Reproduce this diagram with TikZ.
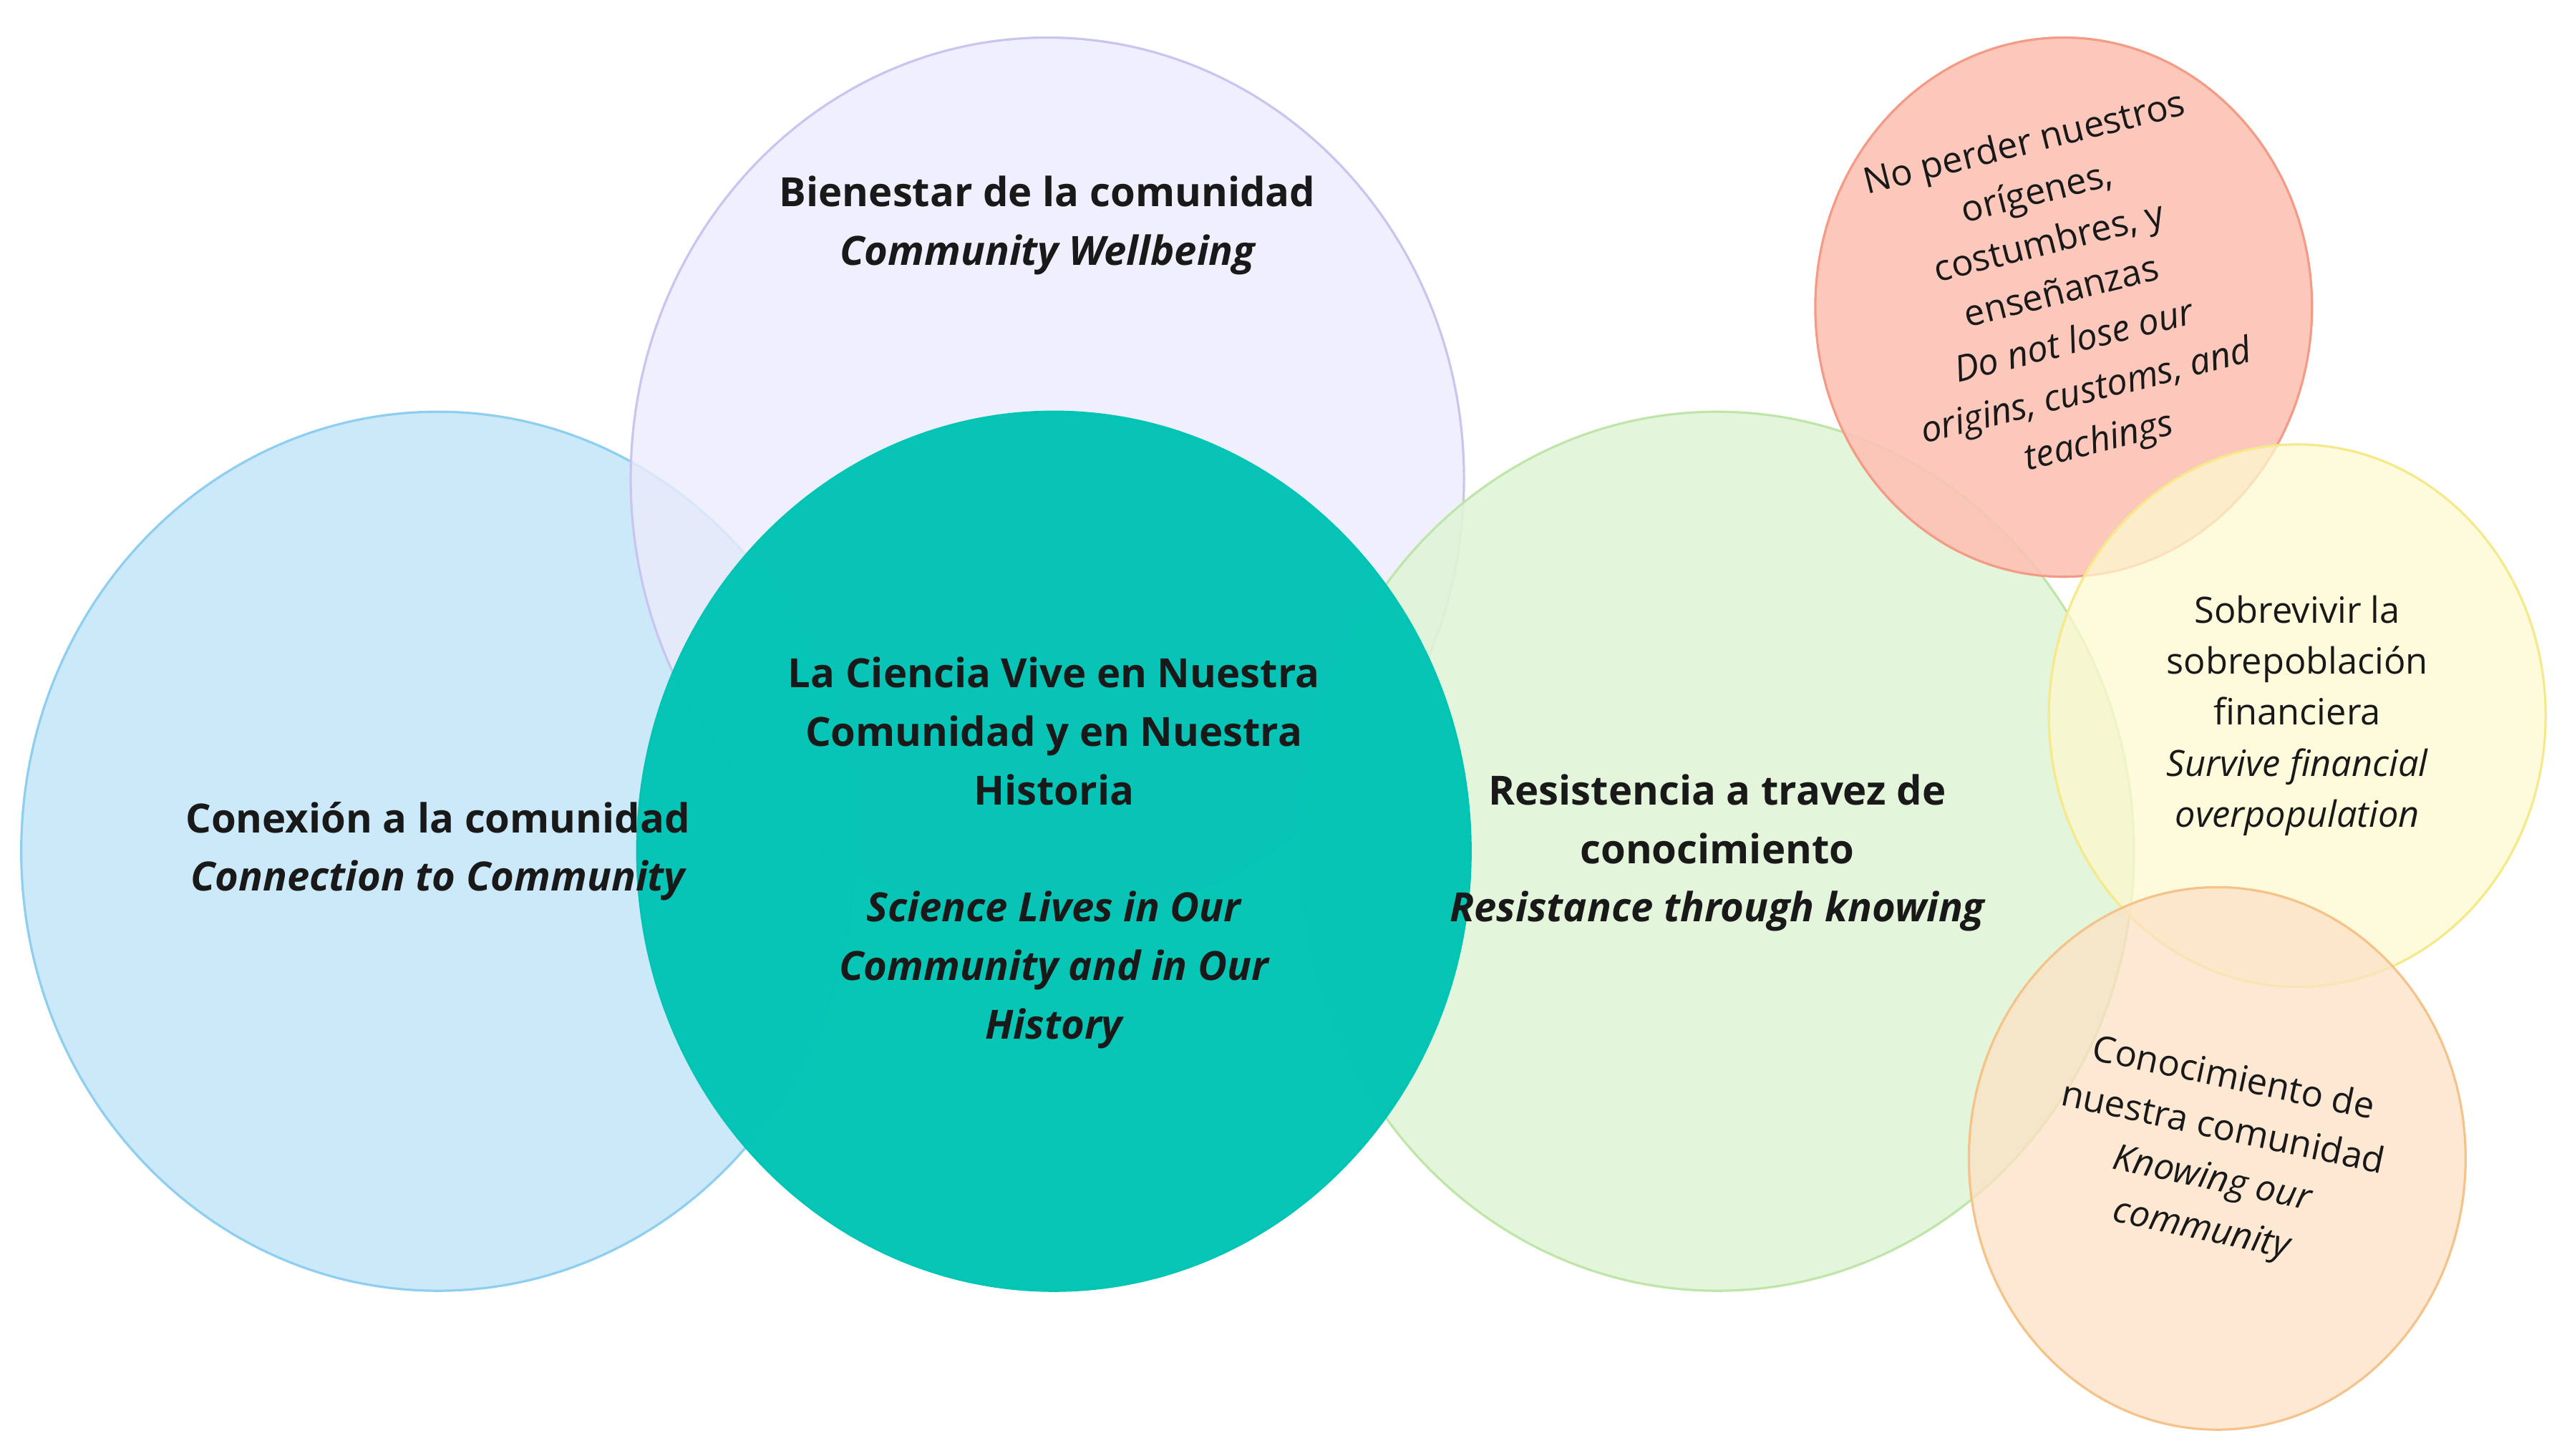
\documentclass[tikz,border=0pt]{standalone}
\usepackage{fontspec}
\setmainfont{Open Sans}
\begin{document}
\begin{tikzpicture}[x=0.01cm,y=-0.01cm,
  big/.style={font=\fontsize{7pt}{10.2pt}\selectfont\bfseries,align=center,text=black!90},
  small/.style={font=\fontsize{6.3pt}{8.9pt}\selectfont,align=center,text=black!90}]
\useasboundingbox (0,0) rectangle (1568,891);
\definecolor{cblue}{HTML}{CCE9FA}\definecolor{cbluel}{HTML}{8ECEF0}
\definecolor{clav}{HTML}{ECEBFC}\definecolor{clavl}{HTML}{C9C5F0}
\definecolor{cteal}{HTML}{00C4B4}
\definecolor{cgreen}{HTML}{E0F4D6}\definecolor{cgreenl}{HTML}{BFE6A8}
\definecolor{cred}{HTML}{FCC2B4}\definecolor{credl}{HTML}{F59A85}
\definecolor{cyel}{HTML}{FDF9CF}\definecolor{cyell}{HTML}{F5E98A}
\definecolor{corg}{HTML}{FDE1C4}\definecolor{corgl}{HTML}{F5C28A}
\draw[cbluel,fill=cblue] (268,521) ellipse [x radius=255,y radius=269];
\draw[clavl,fill=clav,fill opacity=0.8] (641,293) ellipse [x radius=255,y radius=270];
\draw[cgreenl,fill=cgreen,fill opacity=0.9] (1051,521) ellipse [x radius=255,y radius=269];
\draw[cteal,fill=cteal,fill opacity=0.97] (645,521) ellipse [x radius=255,y radius=269];
\draw[credl,fill=cred,fill opacity=0.9] (1263,188) ellipse [x radius=152,y radius=165];
\draw[cyell,fill=cyel,fill opacity=0.75] (1406,438) ellipse [x radius=152,y radius=166];
\draw[corgl,fill=corg,fill opacity=0.75] (1357,709) ellipse [x radius=152,y radius=166];
\node[big] (t1) at (641,138) {Bienestar de la comunidad\\\itshape Community Wellbeing};
\node[big] (t2) at (268,521) {Conexión a la comunidad\\\itshape Connection to Community};
\node[big] (t3) at (645,522) {La Ciencia Vive en Nuestra\\Comunidad y en Nuestra\\Historia\\[10.2pt]\itshape Science Lives in Our\\\itshape Community and in Our\\\itshape History};
\node[big] (t4) at (1051,522) {Resistencia a travez de\\conocimiento\\\itshape Resistance through knowing};
\node[small,rotate=14] (t5) at (1262,180) {No perder nuestros\\orígenes,\\costumbres, y\\enseñanzas\\\itshape Do not lose our\\\itshape origins, customs, and\\\itshape teachings};
\node[small] (t6) at (1406,438) {Sobrevivir la\\sobrepoblación\\financiera\\\itshape Survive financial\\\itshape overpopulation};
\node[small,rotate=-12] (t7) at (1357,707) {Conocimiento de\\nuestra comunidad\\\itshape Knowing our\\\itshape community};
\end{tikzpicture}
\end{document}
